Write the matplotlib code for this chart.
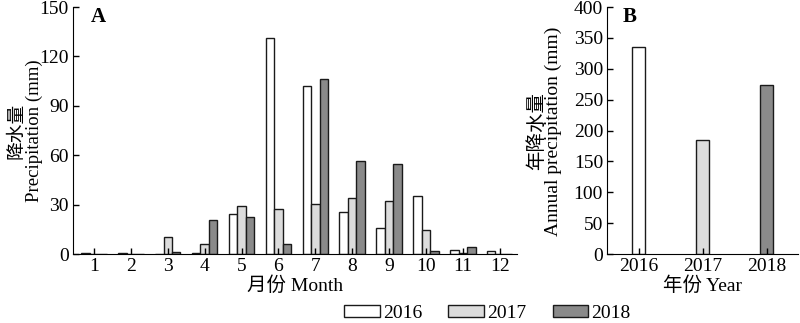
import matplotlib
matplotlib.use("Agg")
import matplotlib.pyplot as plt
import numpy as np
from matplotlib.patches import Patch

plt.rcParams['font.family'] = ['Liberation Serif', 'Noto Sans CJK SC']
plt.rcParams['font.size'] = 14

months = [1, 2, 3, 4, 5, 6, 7, 8, 9, 10, 11, 12]
rain_2016 = [0.5, 0.5, 0.0, 0.5, 24.0, 131.3, 101.8, 25.5, 16.0, 35.0, 2.2, 1.6]
rain_2017 = [0.3, 0.3, 10.3, 6.1, 29.3, 27.5, 30.5, 33.8, 32.0, 14.8, 0.5, 0.0]
rain_2018 = [0.3, 0.0, 1.5, 20.5, 22.5, 6.3, 106.3, 56.3, 54.4, 2.0, 4.3, 0.0]

years = ['2016', '2017', '2018']
annual = [336, 185, 273]

colors = ['#ffffff', '#dcdcdc', '#8a8a8a']
edge = '#1a1a1a'
fs = 14

fig = plt.figure(figsize=(8, 3.23), dpi=100)
axA = fig.add_axes([0.09125, 0.2136, 0.555, 0.7645])
axB = fig.add_axes([0.759, 0.2136, 0.2385, 0.7645])

for ax in (axA, axB):
    ax.spines['top'].set_visible(False)
    ax.spines['right'].set_visible(False)
    ax.tick_params(direction='in', length=4, width=1, labelsize=fs, pad=3)

# Panel A: monthly precipitation
w = 0.23
x = np.array(months)
for i, (vals, c) in enumerate(zip([rain_2016, rain_2017, rain_2018], colors)):
    axA.bar(x + (i - 1) * w, vals, width=w, color=c, edgecolor=edge, linewidth=1)
axA.set_xlim(0.43, 12.47)
axA.set_ylim(0, 150)
axA.set_xticks(months)
axA.set_yticks([0, 30, 60, 90, 120, 150])
axA.set_xlabel('月份 Month', fontsize=fs, labelpad=1)
axA.text(0.04, 0.96, 'A', transform=axA.transAxes, fontsize=15, fontweight='bold',
         ha='left', va='center')
fig.text(0.032, 0.595, '降水量\nPrecipitation (mm)', rotation=90, ha='center',
         va='center', multialignment='center', fontsize=13.5, linespacing=0.95)

# Panel B: annual precipitation
xb = np.arange(len(years))
axB.bar(xb, annual, width=0.2, color=colors, edgecolor=edge, linewidth=1)
axB.set_xlim(-0.49, 2.49)
axB.set_ylim(0, 400)
axB.set_xticks(xb)
axB.set_xticklabels(years)
axB.set_yticks(range(0, 401, 50))
axB.set_xlabel('年份 Year', fontsize=fs, labelpad=1)
axB.text(0.08, 0.96, 'B', transform=axB.transAxes, fontsize=15, fontweight='bold',
         ha='left', va='center')
fig.text(0.681, 0.595, '年降水量\nAnnual precipitation (mm)', rotation=90, ha='center',
         va='center', multialignment='center', fontsize=fs, linespacing=0.95)

handles = [Patch(facecolor=c, edgecolor=edge, linewidth=1) for c in colors]
fig.legend(handles, years, loc='center', bbox_to_anchor=(0.609, 0.03), ncol=3,
           frameon=False, fontsize=fs, handlelength=1.85, handleheight=0.62,
           handletextpad=0.15, columnspacing=1.35, borderpad=0.1)

fig.savefig('out.png', dpi=100)
